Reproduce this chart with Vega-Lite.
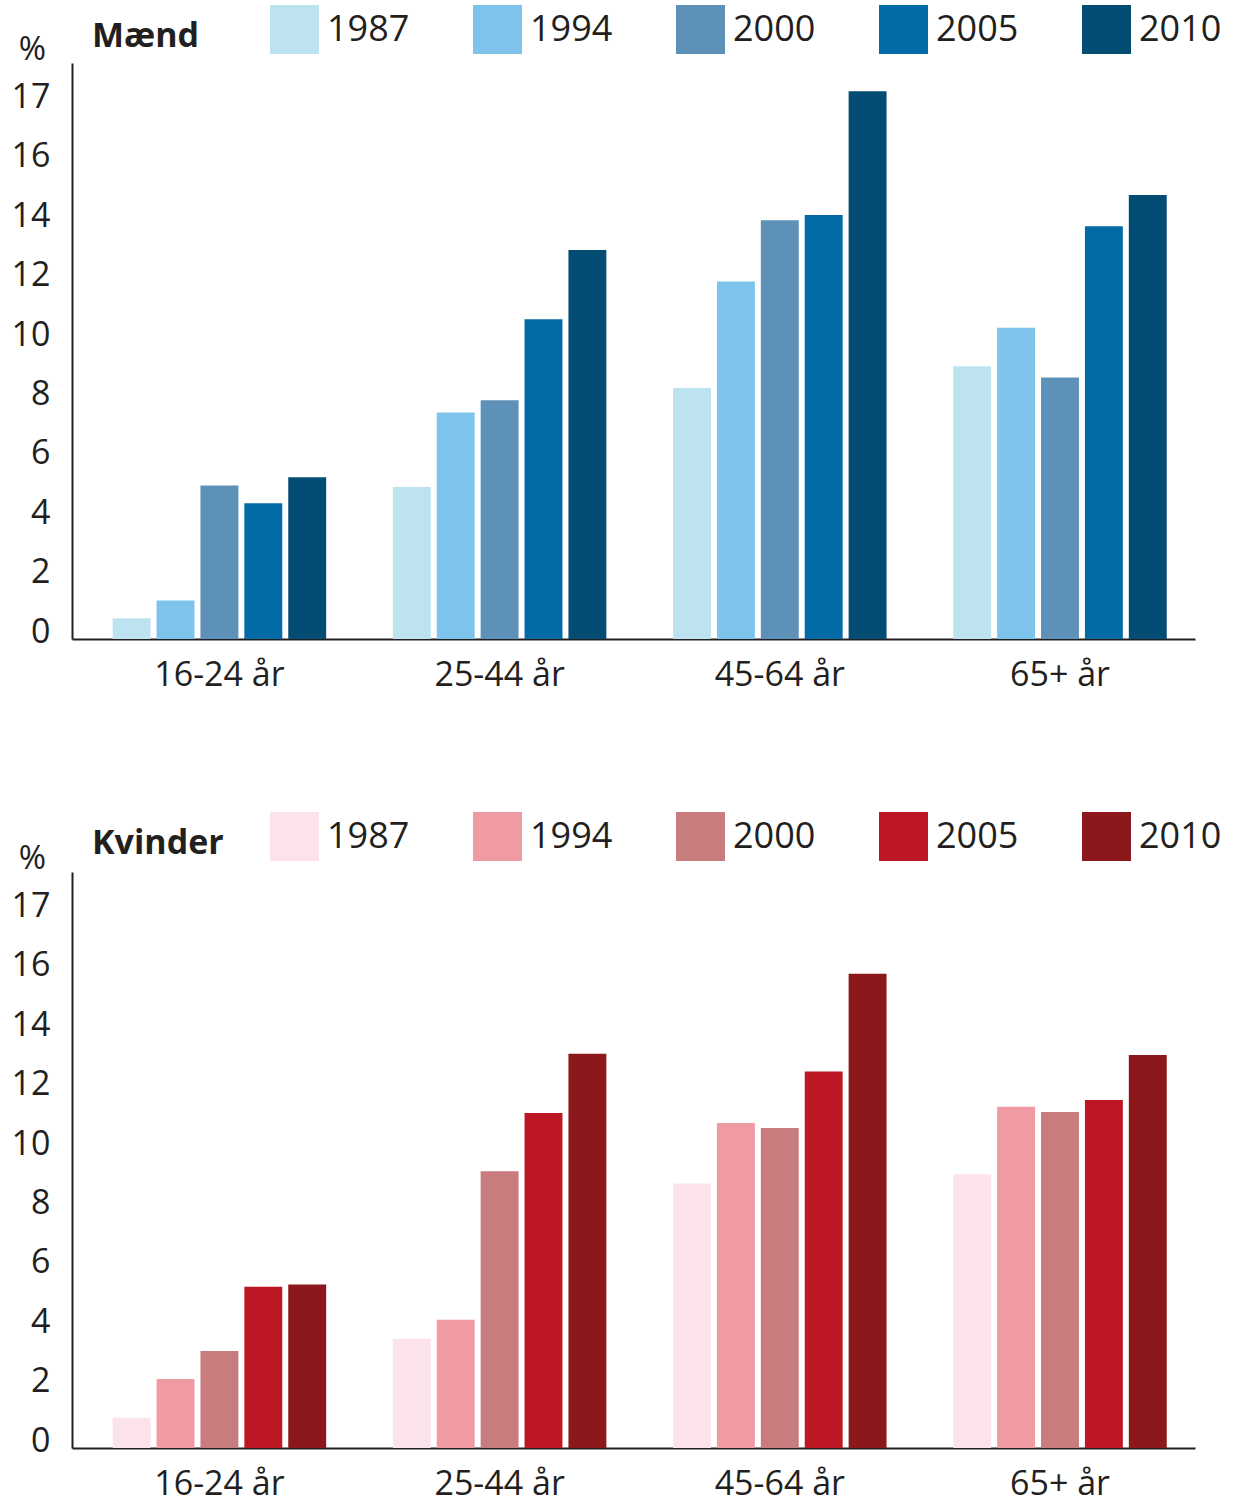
{
  "$schema": "https://vega.github.io/schema/vega-lite/v6.json",
  "padding": {"left": 11, "top": 5, "right": 0, "bottom": 0},
  "autosize": {"type": "pad"},
  "data": {
    "values": [
      {"sex": "Mænd", "group": "16-24 år", "year": "1987", "value": 0.7},
      {"sex": "Mænd", "group": "16-24 år", "year": "1994", "value": 1.3},
      {"sex": "Mænd", "group": "16-24 år", "year": "2000", "value": 5.17},
      {"sex": "Mænd", "group": "16-24 år", "year": "2005", "value": 4.57},
      {"sex": "Mænd", "group": "16-24 år", "year": "2010", "value": 5.45},
      {"sex": "Mænd", "group": "25-44 år", "year": "1987", "value": 5.12},
      {"sex": "Mænd", "group": "25-44 år", "year": "1994", "value": 7.63},
      {"sex": "Mænd", "group": "25-44 år", "year": "2000", "value": 8.04},
      {"sex": "Mænd", "group": "25-44 år", "year": "2005", "value": 10.77},
      {"sex": "Mænd", "group": "25-44 år", "year": "2010", "value": 13.1},
      {"sex": "Mænd", "group": "45-64 år", "year": "1987", "value": 8.45},
      {"sex": "Mænd", "group": "45-64 år", "year": "1994", "value": 12.04},
      {"sex": "Mænd", "group": "45-64 år", "year": "2000", "value": 14.1},
      {"sex": "Mænd", "group": "45-64 år", "year": "2005", "value": 14.28},
      {"sex": "Mænd", "group": "45-64 år", "year": "2010", "value": 18.45},
      {"sex": "Mænd", "group": "65+ år", "year": "1987", "value": 9.19},
      {"sex": "Mænd", "group": "65+ år", "year": "1994", "value": 10.48},
      {"sex": "Mænd", "group": "65+ år", "year": "2000", "value": 8.81},
      {"sex": "Mænd", "group": "65+ år", "year": "2005", "value": 13.9},
      {"sex": "Mænd", "group": "65+ år", "year": "2010", "value": 14.95},
      {"sex": "Kvinder", "group": "16-24 år", "year": "1987", "value": 1.02},
      {"sex": "Kvinder", "group": "16-24 år", "year": "1994", "value": 2.32},
      {"sex": "Kvinder", "group": "16-24 år", "year": "2000", "value": 3.27},
      {"sex": "Kvinder", "group": "16-24 år", "year": "2005", "value": 5.43},
      {"sex": "Kvinder", "group": "16-24 år", "year": "2010", "value": 5.51},
      {"sex": "Kvinder", "group": "25-44 år", "year": "1987", "value": 3.68},
      {"sex": "Kvinder", "group": "25-44 år", "year": "1994", "value": 4.32},
      {"sex": "Kvinder", "group": "25-44 år", "year": "2000", "value": 9.32},
      {"sex": "Kvinder", "group": "25-44 år", "year": "2005", "value": 11.28},
      {"sex": "Kvinder", "group": "25-44 år", "year": "2010", "value": 13.28},
      {"sex": "Kvinder", "group": "45-64 år", "year": "1987", "value": 8.91},
      {"sex": "Kvinder", "group": "45-64 år", "year": "1994", "value": 10.95},
      {"sex": "Kvinder", "group": "45-64 år", "year": "2000", "value": 10.78},
      {"sex": "Kvinder", "group": "45-64 år", "year": "2005", "value": 12.68},
      {"sex": "Kvinder", "group": "45-64 år", "year": "2010", "value": 15.97},
      {"sex": "Kvinder", "group": "65+ år", "year": "1987", "value": 9.22},
      {"sex": "Kvinder", "group": "65+ år", "year": "1994", "value": 11.49},
      {"sex": "Kvinder", "group": "65+ år", "year": "2000", "value": 11.32},
      {"sex": "Kvinder", "group": "65+ år", "year": "2005", "value": 11.72},
      {"sex": "Kvinder", "group": "65+ år", "year": "2010", "value": 13.24}
    ]
  },
  "bounds": "flush",
  "spacing": 233,
  "resolve": {"scale": {"color": "independent"}},
  "vconcat": [
    {
      "width": 1123,
      "height": 576,
      "transform": [{"filter": "datum.sex == 'Mænd'"}],
      "mark": {"type": "bar"},
      "encoding": {
        "x": {"field": "group", "type": "nominal", "sort": null, "title": null,
          "scale": {"paddingInner": 0.238, "paddingOuter": 0.123, "align": 0.59}},
        "xOffset": {"field": "year", "type": "nominal", "scale": {"paddingInner": 0.136, "paddingOuter": 0}},
        "y": {"field": "value", "type": "quantitative",
          "scale": {"domain": [0, 19.4], "nice": false},
          "axis": {"title": "%", "values": [0, 2, 4, 6, 8, 10, 12, 14, 16, 18],
            "labelExpr": "datum.value == 18 ? '17' : datum.label"}},
        "color": {"field": "year", "type": "nominal",
          "scale": {"range": ["#bee3f0", "#7dc3ec", "#5e91b7", "#026ba6", "#034d75"]},
          "legend": {"title": "Mænd", "legendX": 20, "legendY": -58, "titlePadding": 70}}
      }
    },
    {
      "width": 1123,
      "height": 576,
      "transform": [{"filter": "datum.sex == 'Kvinder'"}],
      "mark": {"type": "bar"},
      "encoding": {
        "x": {"field": "group", "type": "nominal", "sort": null, "title": null,
          "scale": {"paddingInner": 0.238, "paddingOuter": 0.123, "align": 0.59}},
        "xOffset": {"field": "year", "type": "nominal", "scale": {"paddingInner": 0.136, "paddingOuter": 0}},
        "y": {"field": "value", "type": "quantitative",
          "scale": {"domain": [0, 19.4], "nice": false},
          "axis": {"title": "%", "values": [0, 2, 4, 6, 8, 10, 12, 14, 16, 18],
            "labelExpr": "datum.value == 18 ? '17' : datum.label"}},
        "color": {"field": "year", "type": "nominal",
          "scale": {"range": ["#fbe3e9", "#f09ba3", "#c97c7e", "#be1724", "#8d181c"]},
          "legend": {"title": "Kvinder", "legendX": 20, "legendY": -60, "titlePadding": 46}}
      }
    }
  ],
  "config": {
    "font": "Open Sans",
    "view": {"stroke": null},
    "axis": {
      "grid": false,
      "ticks": false,
      "tickSize": 0,
      "domainColor": "#231f20",
      "domainWidth": 2,
      "labelFont": "Open Sans",
      "labelFontSize": 34,
      "labelColor": "#231f20"
    },
    "axisX": {"labelPadding": 19, "labelAngle": 0},
    "axisY": {
      "labelPadding": 22,
      "labelBaseline": "alphabetic",
      "labelOffset": 3,
      "titleAngle": 0,
      "titleX": -40,
      "titleY": -4,
      "titleAlign": "center",
      "titleBaseline": "alphabetic",
      "titleFont": "Open Sans",
      "titleFontSize": 33,
      "titleFontWeight": "normal",
      "titleColor": "#231f20"
    },
    "legend": {
      "orient": "none",
      "direction": "horizontal",
      "columns": 5,
      "padding": 0,
      "columnPadding": 63,
      "symbolType": "square",
      "symbolSize": 2401,
      "symbolStrokeWidth": 0,
      "symbolOpacity": 1,
      "labelFont": "Open Sans",
      "labelFontSize": 36,
      "labelColor": "#231f20",
      "labelOffset": 8,
      "titleOrient": "left",
      "titleAnchor": "end",
      "titleBaseline": "bottom",
      "titleFont": "Open Sans",
      "titleFontSize": 34,
      "titleFontWeight": "bold",
      "titleColor": "#231f20"
    }
  }
}
